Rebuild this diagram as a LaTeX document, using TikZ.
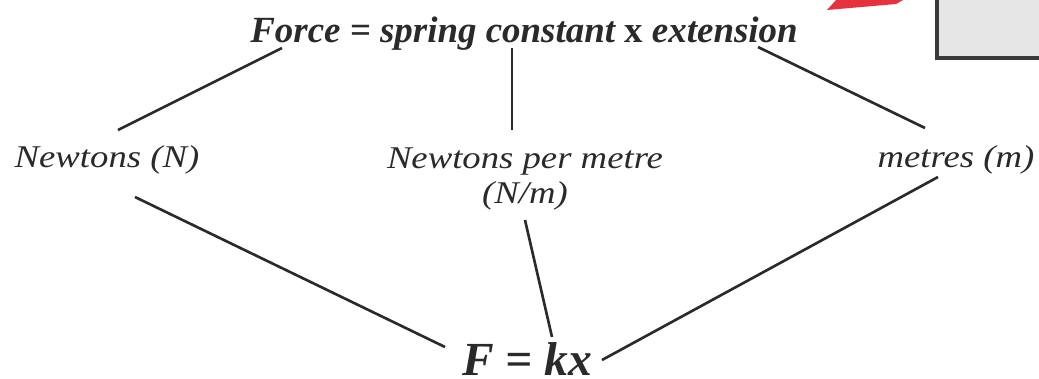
\documentclass[tikz,border=0pt]{standalone}
\usepackage{fontspec}
\setmainfont{Liberation Serif}
\newfontfamily\unitfont[FakeStretch=1.16]{Liberation Serif}
\usepackage{tikz}
\usetikzlibrary{
  positioning,
  calc
}
\definecolor{InkGrey}{HTML}{2A2A2A}
\definecolor{FlagRed}{HTML}{E5323C}
\definecolor{PanelGrey}{HTML}{E6E6E6}
\definecolor{EdgeGrey}{HTML}{3A3A3A}
\tikzset{
  % Word equation on top
  wordeq/.style={
    anchor=base, inner sep=0pt, text=InkGrey,
    font=\fontsize{10.5}{12}\selectfont\bfseries\itshape
  },
  % Unit label
  unit/.style={
    anchor=base, inner sep=0pt, text=InkGrey, align=center,
    font=\unitfont\fontsize{9}{9.9}\selectfont\itshape
  },
  % Symbol equation at the bottom
  symeq/.style={
    anchor=base, inner sep=0pt, text=InkGrey,
    font=\fontsize{13.5}{15}\selectfont\bfseries\itshape
  },
  % Plain joining line
  link/.style={line width=0.75pt, color=InkGrey}
}

\begin{document}
\begin{tikzpicture}[x=0.01cm, y=-0.01cm]
  \useasboundingbox (0,0) rectangle (1039,378);

  % cut-off bits at the top right
  \fill[FlagRed] (827,10) -- (836,0) -- (903,0) -- (896,4) -- cycle;
  \fill[PanelGrey] (937,-5) rectangle (1045,58);
  \draw[EdgeGrey, line width=1.2pt] (937,-5) -- (937,58) -- (1045,58);

  \node[wordeq] (word)   at (524,42)  {Force = spring constant {\upshape x} extension};
  \node[unit]   (newton) at (107,167) {Newtons (N)};
  \node[unit]   (stiff)  at (525,203) {Newtons per metre\\(N/m)};
  \node[unit]   (metre)  at (956,167) {metres (m)};
  \node[symeq]  (sym)    at (527,375) {F = kx};

  % line ends
  \coordinate (wl) at (282,48);
  \coordinate (wm) at (512,48);
  \coordinate (wr) at (758,47);
  \coordinate (nt) at (118,130);
  \coordinate (st) at (512,130);
  \coordinate (mt) at (925,128);
  \coordinate (nb) at (135,197);
  \coordinate (sb) at (525,220);
  \coordinate (mb) at (938,177);
  \coordinate (yl) at (445,347);
  \coordinate (ym) at (552,337);
  \coordinate (yr) at (602,360);

  \draw[link] (wl) -- (nt);
  \draw[link] (wm) -- (st);
  \draw[link] (wr) -- (mt);
  \draw[link] (nb) -- (yl);
  \draw[link] (sb) -- (ym);
  \draw[link] (mb) -- (yr);
\end{tikzpicture}
\end{document}
